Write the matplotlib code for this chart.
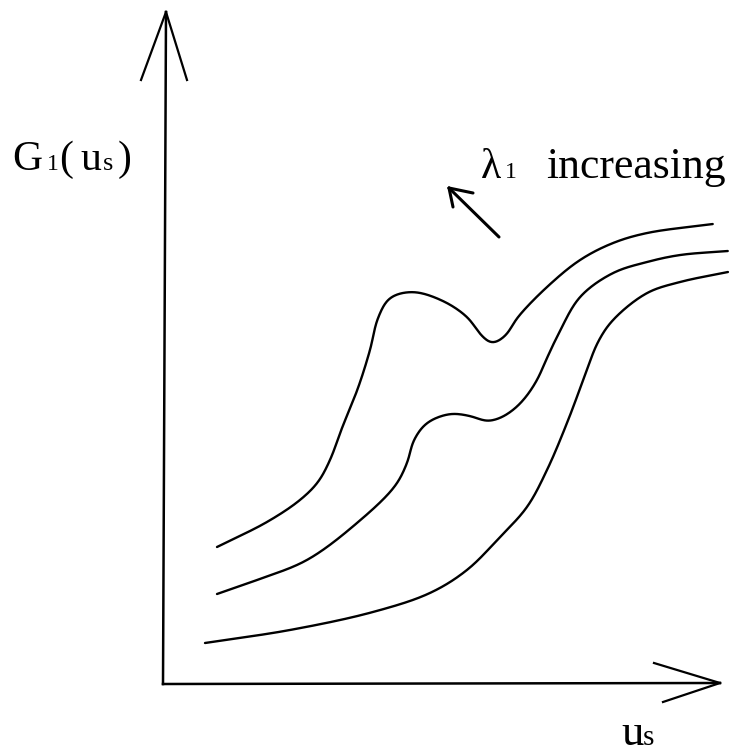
import numpy as np
import matplotlib
matplotlib.use("Agg")
import matplotlib.pyplot as plt

# --- data (image-like coordinates: x right, y down) ---
top_x = [217, 267, 300, 318, 330, 342, 358, 370, 378, 390, 413, 443, 467, 482, 492, 505, 518, 547, 580, 613, 647, 713]
top_y = [547, 522, 500, 482, 460, 428, 388, 350, 318, 298, 292, 301, 317, 336, 343, 336, 317, 287, 260, 243, 233, 224]

mid_x = [217, 257, 307, 357, 395, 407, 414, 427, 450, 470, 487, 500, 513, 525, 537, 547, 558, 580, 613, 647, 680, 728]
mid_y = [594, 580, 560, 523, 486, 463, 440, 423, 414, 416, 421, 418, 410, 398, 380, 358, 335, 297, 273, 262, 255, 251]

low_x = [205, 290, 373, 430, 467, 500, 527, 547, 567, 584, 598, 613, 647, 680, 728]
low_y = [643, 630, 612, 593, 570, 537, 507, 470, 423, 378, 342, 320, 293, 282, 272]

axis_origin = (163, 684)
y_axis_tip = (166, 12)
x_axis_tip = (720, 683)
y_head_arms = [(141, 80), (187, 80)]
x_head_arms = [(654, 663), (663, 702)]

arrow_tail = (499, 237)
arrow_tip = (449, 188)
arrow_arms = [(473, 193), (453, 207)]

W, H = 736, 754


def smooth(xs, ys, n=30, alpha=0.5, sigma=4.0):
    """Centripetal Catmull-Rom through the read points, then a light
    Gaussian rounding along arc length (drawing only)."""
    P = np.column_stack([xs, ys]).astype(float)
    P = np.vstack([2 * P[0] - P[1], P, 2 * P[-1] - P[-2]])
    out = []
    for i in range(1, len(P) - 2):
        p0, p1, p2, p3 = P[i - 1], P[i], P[i + 1], P[i + 2]
        t0 = 0.0
        t1 = t0 + np.linalg.norm(p1 - p0) ** alpha
        t2 = t1 + np.linalg.norm(p2 - p1) ** alpha
        t3 = t2 + np.linalg.norm(p3 - p2) ** alpha
        t = np.linspace(t1, t2, n)[:, None]
        A1 = (t1 - t) / (t1 - t0) * p0 + (t - t0) / (t1 - t0) * p1
        A2 = (t2 - t) / (t2 - t1) * p1 + (t - t1) / (t2 - t1) * p2
        A3 = (t3 - t) / (t3 - t2) * p2 + (t - t2) / (t3 - t2) * p3
        B1 = (t2 - t) / (t2 - t0) * A1 + (t - t0) / (t2 - t0) * A2
        B2 = (t3 - t) / (t3 - t1) * A2 + (t - t1) / (t3 - t1) * A3
        C = (t2 - t) / (t2 - t1) * B1 + (t - t1) / (t2 - t1) * B2
        out.append(C if i == 1 else C[1:])
    S = np.vstack(out)
    d = np.r_[0, np.cumsum(np.hypot(*np.diff(S, axis=0).T))]
    s = np.arange(0, d[-1], 1.0)
    X = np.interp(s, d, S[:, 0])
    Y = np.interp(s, d, S[:, 1])
    k = int(3 * sigma)
    g = np.exp(-0.5 * (np.arange(-k, k + 1) / sigma) ** 2)
    g /= g.sum()
    Xp = np.r_[2 * X[0] - X[k:0:-1], X, 2 * X[-1] - X[-2:-k - 2:-1]]
    Yp = np.r_[2 * Y[0] - Y[k:0:-1], Y, 2 * Y[-1] - Y[-2:-k - 2:-1]]
    return np.convolve(Xp, g, "valid"), np.convolve(Yp, g, "valid")


fig = plt.figure(figsize=(W / 100, H / 100), dpi=100)
ax = fig.add_axes([0, 0, 1, 1])
ax.set_xlim(0, W)
ax.set_ylim(H, 0)
ax.axis("off")

lw = 1.7
for xs, ys in [(top_x, top_y), (mid_x, mid_y), (low_x, low_y)]:
    sx, sy = smooth(xs, ys)
    ax.plot(sx, sy, color="black", lw=lw, solid_capstyle="round", solid_joinstyle="round")

# axes with open arrowheads
ax.plot([axis_origin[0], y_axis_tip[0]], [axis_origin[1], y_axis_tip[1]], color="black", lw=1.8)
ax.plot([axis_origin[0], x_axis_tip[0]], [axis_origin[1], x_axis_tip[1]], color="black", lw=1.8)
for arm in y_head_arms:
    ax.plot([y_axis_tip[0], arm[0]], [y_axis_tip[1], arm[1]], color="black", lw=1.6)
for arm in x_head_arms:
    ax.plot([x_axis_tip[0], arm[0]], [x_axis_tip[1], arm[1]], color="black", lw=1.6)

# "increasing" arrow
ax.plot([arrow_tail[0], arrow_tip[0]], [arrow_tail[1], arrow_tip[1]], color="black", lw=2.2,
        solid_capstyle="round")
for arm in arrow_arms:
    ax.plot([arrow_tip[0], arm[0]], [arrow_tip[1], arm[1]], color="black", lw=2.2,
            solid_capstyle="round")

serif = ["Liberation Serif", "DejaVu Serif"]


def put(x, y, s, size):
    ax.text(x, y, s, fontsize=size, family=serif, ha="left", va="baseline", color="black")


# y-axis label G1(us)
put(12, 170, "G", 30)
put(47, 170, "1", 17)
put(59, 170, "(", 30)
put(80, 170, "u", 30)
put(103, 170, "s", 19)
put(118, 170, ")", 30)

# lambda label
put(481, 178, "λ", 30)
put(505, 178, "1", 17)
put(546, 178, "increasing", 31.5)

# x-axis label
put(621, 745, "u", 32)
put(643, 745, "s", 21)

fig.savefig("out.png", dpi=100)
